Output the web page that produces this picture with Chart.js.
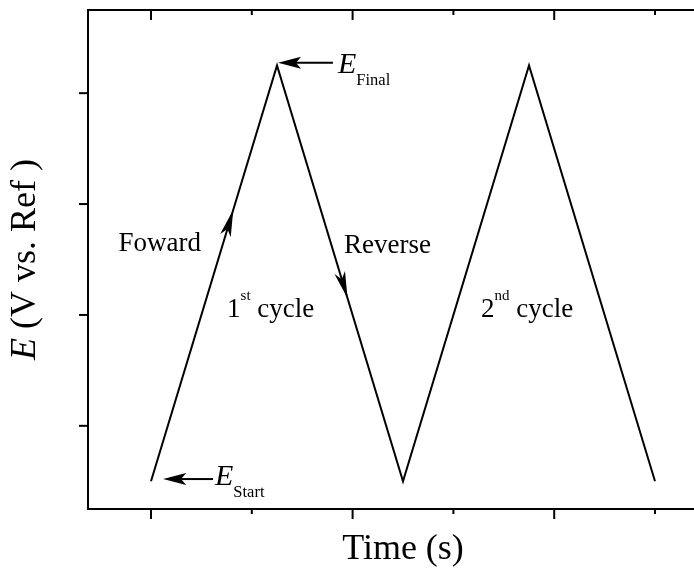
<!DOCTYPE html>
<html>
<head>
<meta charset="utf-8">
<script src="https://cdn.jsdelivr.net/npm/chart.js@4.4.1/dist/chart.umd.min.js"></script>
<style>
  html, body { margin: 0; padding: 0; background: #fff; overflow: hidden; }
  #wrap { position: relative; width: 720px; height: 575px; }
</style>
</head>
<body>
<div id="wrap"><canvas id="cv"></canvas></div>
<script>
// Triangular potential program: two full sweeps between E_start and E_final
const times      = [0, 2.5, 5, 7.5, 10];
const potentials = [-0.1, 0.65, -0.1, 0.65, -0.1];

// Tick positions (no tick labels are printed)
const xMajorTicks = [0, 4, 8];
const xMinorTicks = [2, 6, 10];
const yTicks      = [0, 0.2, 0.4, 0.6];

// Texts
const xTitle       = 'Time (s)';
const yTitleSymbol = 'E';
const yTitleRest   = ' (V vs. Ref )';

const SERIF = '"Liberation Serif", "Times New Roman", Times, serif';

// Annotation anchors in data units (baseline-left unless noted)
const notes = {
  forward:  { t: 0.99, e: 0.315, text: 'Foward', align: 'right' },
  reverse:  { t: 3.83, e: 0.312, text: 'Reverse' },
  cycle1:   { t: 1.51, e: 0.197, num: '1', sup: 'st' },
  cycle2:   { t: 6.55, e: 0.196, num: '2', sup: 'nd' },
  eFinal:   { t: 3.71, e: 0.637, sub: 'Final', tail: 3.61, tip: 2.52, arrowE: 0.655 },
  eStart:   { t: 1.27, e: -0.107, sub: 'Start', tail: 1.23, tip: 0.24, arrowE: -0.096 },
  sweepUp:   { seg: 0, frac: 0.653 },
  sweepDown: { seg: 1, frac: 0.56 }
};

function strokeLine(ctx, x1, y1, x2, y2) {
  ctx.beginPath(); ctx.moveTo(x1, y1); ctx.lineTo(x2, y2); ctx.stroke();
}

function arrowHead(ctx, tx, ty, ang, L, W, N) {
  ctx.save();
  ctx.translate(tx, ty);
  ctx.rotate(ang);
  ctx.beginPath();
  ctx.moveTo(0, 0);
  ctx.lineTo(-L, -W);
  ctx.lineTo(-L + N, 0);
  ctx.lineTo(-L, W);
  ctx.closePath();
  ctx.fill();
  ctx.restore();
}

// Draw a sequence of text runs with their own fonts and baseline shifts
function drawRuns(ctx, x, y, runs) {
  let cx = x;
  runs.forEach(r => {
    ctx.font = r.font;
    ctx.fillText(r.text, cx, y + (r.dy || 0));
    cx += ctx.measureText(r.text).width;
  });
}

const overlay = {
  id: 'overlay',
  afterDraw(chart) {
    const { ctx, chartArea: a, scales: { x, y } } = chart;
    ctx.save();
    ctx.strokeStyle = '#000';
    ctx.fillStyle = '#000';
    ctx.lineWidth = 2;
    ctx.lineCap = 'butt';

    // top frame line
    strokeLine(ctx, a.left - 1, a.top, a.right, a.top);

    // x ticks: outward at bottom, inward at top
    xMajorTicks.forEach(v => {
      const px = x.getPixelForValue(v);
      strokeLine(ctx, px, a.bottom, px, a.bottom + 10);
      strokeLine(ctx, px, a.top, px, a.top + 10);
    });
    xMinorTicks.forEach(v => {
      const px = x.getPixelForValue(v);
      strokeLine(ctx, px, a.bottom, px, a.bottom + 5);
      strokeLine(ctx, px, a.top, px, a.top + 5);
    });
    // y ticks: outward on the left
    yTicks.forEach(v => {
      const py = y.getPixelForValue(v);
      strokeLine(ctx, a.left - 9, py, a.left, py);
    });

    // y-axis title with italic symbol
    ctx.save();
    ctx.textBaseline = 'alphabetic';
    ctx.font = 'italic 36px ' + SERIF;
    const w1 = ctx.measureText(yTitleSymbol).width;
    ctx.font = '36px ' + SERIF;
    const w2 = ctx.measureText(yTitleRest).width;
    ctx.translate(35, (a.top + a.bottom) / 2);
    ctx.rotate(-Math.PI / 2);
    drawRuns(ctx, -(w1 + w2) / 2, 0, [
      { text: yTitleSymbol, font: 'italic 36px ' + SERIF },
      { text: yTitleRest, font: '36px ' + SERIF }
    ]);
    ctx.restore();

    // sweep-direction arrowheads on the waveform
    [notes.sweepUp, notes.sweepDown].forEach(s => {
      const x0 = x.getPixelForValue(times[s.seg]), y0 = y.getPixelForValue(potentials[s.seg]);
      const x1 = x.getPixelForValue(times[s.seg + 1]), y1 = y.getPixelForValue(potentials[s.seg + 1]);
      const tx = x0 + s.frac * (x1 - x0), ty = y0 + s.frac * (y1 - y0);
      arrowHead(ctx, tx, ty, Math.atan2(y1 - y0, x1 - x0), 27, 5.5, 7);
    });

    // E_final / E_start pointers
    [notes.eFinal, notes.eStart].forEach(n => {
      const tailX = x.getPixelForValue(n.tail), tipX = x.getPixelForValue(n.tip);
      const ay = y.getPixelForValue(n.arrowE);
      strokeLine(ctx, tailX, ay, tipX + 18, ay);
      arrowHead(ctx, tipX, ay, Math.PI, 23, 6, 5);
      drawRuns(ctx, x.getPixelForValue(n.t), y.getPixelForValue(n.e), [
        { text: 'E', font: 'italic 30px ' + SERIF },
        { text: n.sub, font: '16.5px ' + SERIF, dy: 12 }
      ]);
    });

    // text labels
    ctx.textBaseline = 'alphabetic';
    ctx.font = '27px ' + SERIF;
    ctx.textAlign = 'right';
    ctx.fillText(notes.forward.text, x.getPixelForValue(notes.forward.t), y.getPixelForValue(notes.forward.e));
    ctx.textAlign = 'left';
    ctx.fillText(notes.reverse.text, x.getPixelForValue(notes.reverse.t), y.getPixelForValue(notes.reverse.e));
    [notes.cycle1, notes.cycle2].forEach(c => {
      drawRuns(ctx, x.getPixelForValue(c.t), y.getPixelForValue(c.e), [
        { text: c.num, font: '27px ' + SERIF },
        { text: c.sup, font: '15px ' + SERIF, dy: -17 },
        { text: ' cycle', font: '27px ' + SERIF }
      ]);
    });

    ctx.restore();
  }
};

new Chart(document.getElementById('cv'), {
  type: 'line',
  data: {
    datasets: [{
      data: times.map((t, i) => ({ x: t, y: potentials[i] })),
      borderColor: '#000',
      borderWidth: 2,
      pointRadius: 0,
      tension: 0,
      fill: false
    }]
  },
  options: {
    responsive: true,
    maintainAspectRatio: false,
    animation: false,
    layout: { padding: { top: 10, right: 2, bottom: 0, left: 0 } },
    plugins: { legend: { display: false }, tooltip: { enabled: false } },
    scales: {
      x: {
        type: 'linear',
        position: 'bottom',
        min: -1.25,
        max: 11.25,
        grid: { display: false, drawTicks: false },
        ticks: { display: false },
        border: { display: true, color: '#000', width: 2 },
        title: {
          display: true,
          text: xTitle,
          color: '#000',
          font: { family: SERIF, size: 36 },
          padding: { top: 0, bottom: 4 }
        },
        afterFit(scale) { scale.height = 66; }
      },
      y: {
        type: 'linear',
        position: 'left',
        min: -0.15,
        max: 0.75,
        grid: { display: false, drawTicks: false },
        ticks: { display: false },
        border: { display: true, color: '#000', width: 2 },
        afterFit(scale) { scale.width = 88; }
      }
    }
  },
  plugins: [overlay]
});
</script>
</body>
</html>
